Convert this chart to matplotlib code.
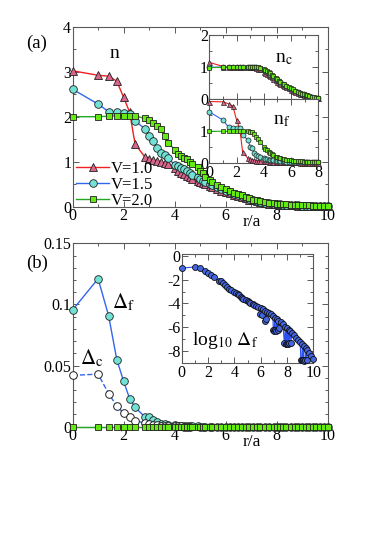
import numpy as np
import matplotlib
matplotlib.use('Agg')
import matplotlib.pyplot as plt
from matplotlib.ticker import MultipleLocator

plt.rcParams['font.family'] = ['Liberation Serif', 'DejaVu Serif']
plt.rcParams['mathtext.fontset'] = 'stix'
plt.rcParams['axes.unicode_minus'] = False

# squared lattice distances (r/a)^2 used as sample points
rsq = [0, 1, 2, 3, 4, 5, 6, 8, 9, 10, 11, 12, 13, 14,
       16, 17, 18, 19, 20, 21, 22, 24, 25, 26, 27, 29, 30, 32, 34,
       36, 38, 40, 42, 44, 46, 48, 50, 52, 54, 57, 59, 62, 64,
       66, 68, 70, 73, 76, 78, 81, 84, 86, 89, 91, 94, 97, 100]

# total density n
n_v10 = [3.02, 2.92, 2.90, 2.79, 2.43, 2.10, 1.39, 1.11, 1.07, 1.04, 1.02, 1.00, 0.97, 0.94,
         0.86, 0.80, 0.76, 0.72, 0.68, 0.65, 0.62, 0.57, 0.54, 0.52, 0.50, 0.46, 0.44, 0.40, 0.36,
         0.33, 0.30, 0.27, 0.24, 0.21, 0.19, 0.16, 0.14, 0.12, 0.10, 0.08, 0.07, 0.06, 0.05,
         0.045, 0.04, 0.035, 0.03, 0.028, 0.025, 0.022, 0.02, 0.02, 0.018, 0.018, 0.016, 0.015, 0.015]
n_v15 = [2.61, 2.28, 2.11, 2.10, 2.08, 2.07, 1.91, 1.73, 1.57, 1.45, 1.30, 1.20, 1.14, 1.08,
         0.93, 0.90, 0.86, 0.84, 0.80, 0.75, 0.71, 0.65, 0.62, 0.58, 0.55, 0.50, 0.48, 0.43, 0.39,
         0.35, 0.32, 0.29, 0.26, 0.23, 0.20, 0.17, 0.15, 0.13, 0.11, 0.09, 0.08, 0.065, 0.055,
         0.05, 0.045, 0.04, 0.035, 0.03, 0.028, 0.025, 0.022, 0.02, 0.02, 0.018, 0.017, 0.016, 0.015]
n_v20 = [2.00, 2.00, 2.01, 2.02, 2.02, 2.02, 2.02, 1.96, 1.92, 1.86, 1.80, 1.72, 1.56, 1.42,
         1.27, 1.18, 1.13, 1.09, 1.05, 1.00, 0.96, 0.88, 0.80, 0.74, 0.66, 0.59, 0.56, 0.49, 0.44,
         0.39, 0.35, 0.31, 0.28, 0.25, 0.22, 0.19, 0.16, 0.14, 0.12, 0.10, 0.09, 0.075, 0.065,
         0.06, 0.055, 0.05, 0.045, 0.04, 0.035, 0.032, 0.03, 0.028, 0.026, 0.025, 0.024, 0.022, 0.02]

# conduction and f densities (r <= 8)
nc_v10 = [1.15, 1.02, 1.00, 1.00, 1.00, 1.00, 1.00, 1.00, 1.00, 1.00, 0.99, 0.97, 0.95, 0.93,
          0.86, 0.82, 0.79, 0.75, 0.72, 0.68, 0.64, 0.59, 0.55, 0.52, 0.49, 0.44, 0.42, 0.38, 0.34,
          0.30, 0.27, 0.24, 0.21, 0.18, 0.16, 0.14, 0.12, 0.10, 0.08, 0.06, 0.05, 0.035, 0.03]
nc_v15 = [1.00, 1.00, 1.00, 1.00, 1.00, 1.00, 1.00, 1.00, 1.00, 1.00, 1.00, 0.99, 0.98, 0.96,
          0.90, 0.87, 0.84, 0.80, 0.77, 0.73, 0.69, 0.63, 0.59, 0.56, 0.52, 0.47, 0.45, 0.40, 0.36,
          0.32, 0.29, 0.26, 0.23, 0.20, 0.17, 0.15, 0.13, 0.11, 0.09, 0.07, 0.055, 0.04, 0.03]
nc_v20 = [0.98, 1.00, 1.00, 1.00, 1.00, 1.00, 1.00, 1.00, 1.00, 1.00, 1.00, 1.00, 0.99, 0.98,
          0.93, 0.90, 0.88, 0.85, 0.81, 0.77, 0.72, 0.66, 0.62, 0.58, 0.55, 0.49, 0.47, 0.42, 0.38,
          0.34, 0.31, 0.27, 0.24, 0.21, 0.18, 0.16, 0.14, 0.12, 0.10, 0.08, 0.06, 0.04, 0.03]
nf_v10 = [1.93, 1.92, 1.86, 1.79, 1.35, 1.09, 0.34, 0.16, 0.12, 0.10, 0.09, 0.08, 0.07, 0.07,
          0.06, 0.06, 0.06, 0.05, 0.05, 0.05, 0.05, 0.04, 0.04, 0.04, 0.04, 0.04, 0.03, 0.03, 0.03,
          0.03, 0.03, 0.03, 0.03, 0.02, 0.02, 0.02, 0.02, 0.02, 0.02, 0.02, 0.02, 0.02, 0.02]
nf_v15 = [1.61, 1.35, 1.13, 1.10, 1.10, 1.10, 0.88, 0.73, 0.52, 0.47, 0.31, 0.26, 0.22, 0.20,
          0.15, 0.13, 0.12, 0.11, 0.10, 0.09, 0.09, 0.08, 0.07, 0.07, 0.06, 0.06, 0.06, 0.05, 0.05,
          0.05, 0.05, 0.04, 0.04, 0.04, 0.04, 0.04, 0.03, 0.03, 0.03, 0.03, 0.03, 0.03, 0.03]
nf_v20 = [1.00, 1.00, 1.00, 1.00, 1.00, 1.00, 1.00, 1.00, 0.99, 0.97, 0.92, 0.83, 0.75, 0.68,
          0.52, 0.45, 0.40, 0.36, 0.33, 0.29, 0.25, 0.21, 0.19, 0.17, 0.15, 0.13, 0.12, 0.11, 0.10,
          0.09, 0.08, 0.07, 0.07, 0.06, 0.06, 0.05, 0.05, 0.05, 0.04, 0.04, 0.04, 0.04, 0.04]

# log10 of the f pairing amplitude (V=1.5), main branch on the grid
logdf = [-1.02, -0.917, -1.043, -1.26, -1.43, -1.64, -1.80, -2.09, -2.10, -2.26, -2.45, -2.60, -2.74, -2.85,
         -3.00, -3.10, -3.20, -3.30, -3.42, -3.52, -3.60, -3.72, -3.80, -3.88, -3.94, -4.04, -4.10, -4.20, -4.30,
         -4.42, -4.50, -4.60, -4.68, -4.78, -4.90, -5.05, -5.20, -5.30, -5.45, -5.60, -5.75, -5.95, -6.05,
         -6.20, -6.35, -6.50, -6.70, -6.90, -7.05, -7.25, -7.45, -7.60, -7.80, -7.95, -8.20, -8.45, -8.70]
# off-axis sites giving the lower branch in the log plot
r_low = [5.92, 6.08, 6.30, 6.40, 6.96, 7.02, 7.12, 7.18, 7.28, 7.40,
         7.80, 7.90, 7.97, 8.05, 8.15, 8.30, 9.05, 9.12, 9.20, 9.30, 9.40, 9.50]
logdf_low = [-4.90, -5.00, -5.50, -5.30, -6.25, -6.30, -6.20, -6.30, -6.25, -6.10,
             -7.30, -7.40, -7.40, -7.45, -7.35, -7.30, -8.75, -8.80, -8.80, -8.85, -8.80, -8.75]

# conduction pairing amplitude (V=1.5)
dc = [0.042, 0.043, 0.027, 0.017, 0.011, 0.008, 0.005, 0.003, 0.002, 0.0015, 0.001, 0.0008, 0.0005, 0.0004,
      0.0003, 0.0002, 0.0002, 0.0001, 0.0001, 0.0001]
# V=2.0: no pairing
d_v20 = [0.0] * len(rsq)

r = np.sqrt(np.array(rsq, dtype=float))
df = 10.0 ** np.array(logdf)

RED, PINK = '#ee2020', '#d8668c'
BLUE, CYAN = '#3366ee', '#72e2d4'
GREEN, LIME = '#22a822', '#66e812'
EDGE = '#202020'
SPINE = '0.35'

sty10 = dict(color=RED, marker='^', mfc=PINK, mec=EDGE)
sty15 = dict(color=BLUE, marker='o', mfc=CYAN, mec=EDGE)
sty20 = dict(color=GREEN, marker='s', mfc=LIME, mec=EDGE)


def style(ax, xmaj, xmin, ymaj, ymin, size=11.5):
    ax.xaxis.set_major_locator(MultipleLocator(xmaj))
    ax.xaxis.set_minor_locator(MultipleLocator(xmin))
    ax.yaxis.set_major_locator(MultipleLocator(ymaj))
    ax.yaxis.set_minor_locator(MultipleLocator(ymin))
    ax.tick_params(which='both', direction='in', top=True, right=True,
                   labelsize=size, pad=1.0, color=SPINE, width=0.7)
    ax.tick_params(which='major', length=4)
    ax.tick_params(which='minor', length=2)
    for s in ax.spines.values():
        s.set_color(SPINE)
        s.set_linewidth(0.8)


fig = plt.figure(figsize=(3.82, 5.40), dpi=100)

# ---- panel (a)
ax = fig.add_axes([0.190, 0.6172, 0.668, 0.3334])
l1, = ax.plot(r, n_v10, lw=1.0, ms=5.5, mew=0.6, label='V=1.0', clip_on=False, zorder=3, **sty10)
l2, = ax.plot(r, n_v15, lw=1.0, ms=5.5, mew=0.6, label='V=1.5', clip_on=False, zorder=4, **sty15)
l3, = ax.plot(r, n_v20, lw=1.0, ms=5, mew=0.6, label='V=2.0', clip_on=False, zorder=5, **sty20)
ax.set_xlim(0, 10)
ax.set_ylim(0, 4)
style(ax, 2, 1, 1, 0.5)
ax.text(1.66, 3.41, 'n', fontsize=14, ha='center', va='center')
ax.text(7.02, -0.083, 'r/a', transform=ax.get_xaxis_transform(), fontsize=12.5, ha='center', va='center')
ax.legend(handles=[l1, l2, l3], loc='lower left', bbox_to_anchor=(0.0, -0.03),
          frameon=False, fontsize=12, handlelength=2.0, handletextpad=0.1,
          labelspacing=0.0, borderpad=0.2, borderaxespad=0)
fig.text(0.096, 0.92, '(a)', fontsize=13.5, ha='center', va='center')

mask = r <= 8.0
rin = r[mask]

axc = fig.add_axes([0.548, 0.8161, 0.285, 0.1191])
axc.plot(rin, nc_v10, lw=0.8, ms=3.6, mew=0.5, clip_on=False, zorder=3, **sty10)
axc.plot(rin, nc_v15, lw=0.8, ms=3.6, mew=0.5, clip_on=False, zorder=4, **sty15)
axc.plot(rin, nc_v20, lw=0.8, ms=3.4, mew=0.5, clip_on=False, zorder=5, **sty20)
axc.set_xlim(0, 8)
axc.set_ylim(0, 2)
style(axc, 2, 1, 1, 0.5)
axc.tick_params(labelbottom=False)
axc.text(5.44, 1.27, r'n$_\mathrm{c}$', fontsize=14, ha='center', va='center')

axf = fig.add_axes([0.548, 0.6976, 0.285, 0.1185])
axf.plot(rin, nf_v10, lw=0.8, ms=3.6, mew=0.5, clip_on=False, zorder=3, **sty10)
axf.plot(rin, nf_v15, lw=0.8, ms=3.6, mew=0.5, clip_on=False, zorder=4, **sty15)
axf.plot(rin, nf_v20, lw=0.8, ms=3.4, mew=0.5, clip_on=False, zorder=5, **sty20)
axf.set_xlim(0, 8)
axf.set_ylim(0, 2)
style(axf, 2, 1, 1, 0.5)
axf.set_yticks([0, 1, 2])
axf.set_yticklabels(['0', '1', ''])
axf.text(5.33, 1.35, r'n$_\mathrm{f}$', fontsize=14, ha='center', va='center')

# ---- panel (b)
bx = fig.add_axes([0.190, 0.2098, 0.668, 0.3396])
bx.plot(r, df, lw=1.0, ms=5.5, mew=0.6, clip_on=False, zorder=3, **sty15)
bx.plot(r[:len(dc)], dc, color=BLUE, ls='--', lw=1.0, marker='o', ms=5.5, mew=0.7,
        mfc='white', mec=EDGE, clip_on=False, zorder=3)
bx.plot(r, d_v20, lw=1.0, ms=5, mew=0.6, clip_on=False, zorder=5, **sty20)
bx.set_xlim(0, 10)
bx.set_ylim(0, 0.15)
style(bx, 2, 1, 0.05, 0.01)
bx.set_yticks([0, 0.05, 0.1, 0.15])
bx.set_yticklabels(['0', '0.05', '0.1', '0.15'])
bx.text(1.98, 0.102, r'$\Delta_\mathrm{f}$', fontsize=15, ha='center', va='center')
bx.text(0.75, 0.056, r'$\Delta_\mathrm{c}$', fontsize=15, ha='center', va='center')
bx.text(7.02, -0.082, 'r/a', transform=bx.get_xaxis_transform(), fontsize=12.5, ha='center', va='center')
fig.text(0.096, 0.5124, '(b)', fontsize=13.5, ha='center', va='center')

# log inset: merge main and lower-branch sites, sorted by distance
r_all = np.concatenate([r, r_low])
l_all = np.concatenate([logdf, logdf_low])
order = np.argsort(r_all, kind='stable')
lx = fig.add_axes([0.4757, 0.3272, 0.3445, 0.2019])
lx.plot(r_all[order], l_all[order], color='#2a50f0', lw=0.8, marker='o', ms=4.3,
        mfc='#4466e0', mec='#101010', mew=0.6, clip_on=False, zorder=3)
lx.set_xlim(0, 10)
lx.set_ylim(-9.05, 0.15)
style(lx, 2, 1, 2, 1)
lx.set_yticks([0, -2, -4, -6, -8])
lx.set_yticklabels(['0', '-2', '-4', '-6', '-8'])
lx.text(3.29, -7.1, r'log$_{10}$ $\Delta_\mathrm{f}$', fontsize=14, ha='center', va='center')

fig.savefig('out.png', dpi=100)
